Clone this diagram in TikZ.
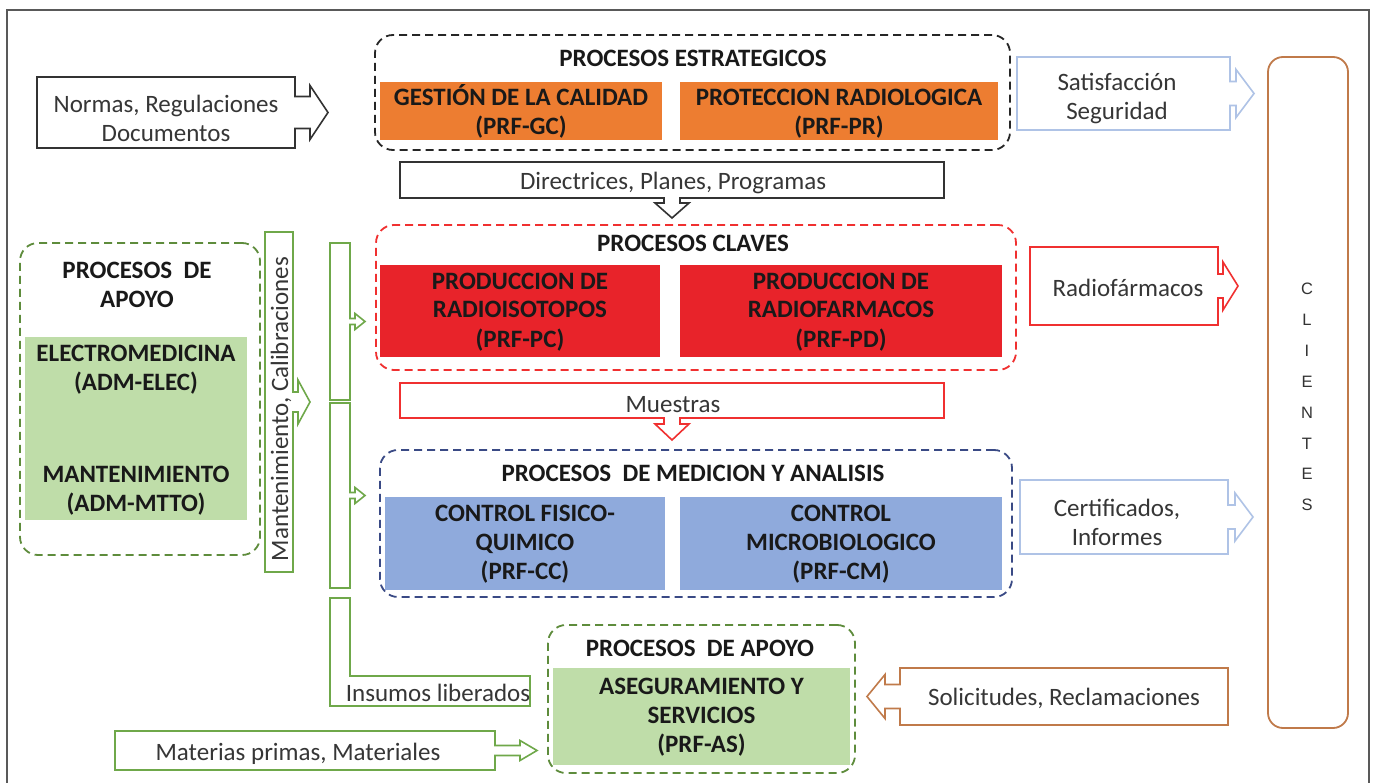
\documentclass[tikz,border=0pt]{standalone}
\usepackage{fontspec}
\setmainfont{Carlito}
\newfontfamily\arialf{Liberation Sans}
\usetikzlibrary{calc}
\definecolor{orng}{HTML}{ED7D31}
\definecolor{redf}{HTML}{E8232A}
\definecolor{bluef}{HTML}{8FAADC}
\definecolor{greenf}{HTML}{BFDDA9}
\definecolor{greenl}{HTML}{6FA84A}
\definecolor{greend}{HTML}{5E8C3C}
\definecolor{bluel}{HTML}{AFC3E6}
\definecolor{brownl}{HTML}{C07A4A}
\definecolor{navyd}{HTML}{3A4A85}
\definecolor{txt}{HTML}{363636}
\definecolor{redl}{HTML}{F03030}

% right arrow callout: #1 node, #2 style, #3 shaft half, #4 head half, #5 shaft len, #6 head len
\newcommand\RArr[6]{\draw[#2] (#1.north west) -- (#1.north east) -- ($(#1.east)+(0,-#3)$) -- ($(#1.east)+(#5,-#3)$) -- ($(#1.east)+(#5,-#4)$) -- ($(#1.east)+(#5+#6,0)$) -- ($(#1.east)+(#5,#4)$) -- ($(#1.east)+(#5,#3)$) -- ($(#1.east)+(0,#3)$) -- (#1.south east) -- (#1.south west) -- cycle;}
\newcommand\LArr[6]{\draw[#2] (#1.north east) -- (#1.north west) -- ($(#1.west)+(0,-#3)$) -- ($(#1.west)+(-#5,-#3)$) -- ($(#1.west)+(-#5,-#4)$) -- ($(#1.west)+(-#5-#6,0)$) -- ($(#1.west)+(-#5,#4)$) -- ($(#1.west)+(-#5,#3)$) -- ($(#1.west)+(0,#3)$) -- (#1.south west) -- (#1.south east) -- cycle;}
\newcommand\DArr[6]{\draw[#2] (#1.south west) -- (#1.north west) -- (#1.north east) -- (#1.south east) -- ($(#1.south)+(#3,0)$) -- ($(#1.south)+(#3,#5)$) -- ($(#1.south)+(#4,#5)$) -- ($(#1.south)+(0,#5+#6)$) -- ($(#1.south)+(-#4,#5)$) -- ($(#1.south)+(-#3,#5)$) -- ($(#1.south)+(-#3,0)$) -- cycle;}
\newcommand\st{\rule{0pt}{21pt}}
\newcommand\sd{\rule[-7pt]{0pt}{7pt}}

\begin{document}
\begin{tikzpicture}[x=1pt,y=-1pt,
  font=\fontsize{25}{29}\selectfont,
  bx/.style={inner sep=0pt, outer sep=0pt, align=center, text=txt},
  bbx/.style={inner sep=0pt, outer sep=0pt, align=center, font=\fontsize{25}{29}\selectfont\bfseries, text=black!90},
  grp/.style={rounded corners=18pt, line width=1.8pt, dash pattern=on 8pt off 5pt, inner sep=0pt, outer sep=0pt},
  outl/.style={line width=1.6pt, line join=miter},
  body/.style={inner sep=0pt, outer sep=0pt},
]
\useasboundingbox (0,0) rectangle (1375,783);
\fill[white] (0,0) rectangle (1375,783);
\draw[black!65, line width=1.6pt] (7,10) rectangle (1369,810);

% ---------- strategic ----------
\node[grp, draw=black!85, minimum width=635, minimum height=115] (strat) at (692.5,92.5) {};
\node[bbx] (stratT) at (693,58) {PROCESOS ESTRATEGICOS};
\node[body, fill=orng, minimum width=282, minimum height=58] (gc) at (521,111) {};
\node[body, fill=orng, minimum width=318, minimum height=58] (pr) at (839,111) {};
\node[bbx] (gcT) at (521,113) {\st GESTIÓN DE LA CALIDAD\\(PRF-GC)\sd};
\node[bbx] (prT) at (839,113) {\st PROTECCION RADIOLOGICA\\(PRF-PR)\sd};

% Normas
\node[body, minimum width=258, minimum height=71] (norm) at (166,112.5) {};
\node[bx] (normT) at (166,118) {Normas, Regulaciones\\Documentos};
\RArr{norm}{outl, draw=black!80}{16}{27}{15}{18}

% Satisfaccion
\node[body, minimum width=213, minimum height=73] (sat) at (1123.5,93.5) {};
\node[bx] (satT) at (1117,99) {Satisfacción\\Seguridad};
\RArr{sat}{outl, draw=bluel}{12}{24}{6}{18}

% Directrices
\node[body, minimum width=544, minimum height=36] (dir) at (672,180) {};
\node[bx] (dirT) at (673,183) {Directrices, Planes, Programas};
\DArr{dir}{outl, draw=black!80}{8}{17}{5}{15}

% ---------- claves ----------
\node[grp, draw=redl, minimum width=640, minimum height=145] (clav) at (696,297.5) {};
\node[bbx] (clavT) at (693,243) {PROCESOS CLAVES};
\node[bbx, fill=redf, minimum width=280, minimum height=92] (pc) at (520,311) {\st PRODUCCION DE\\RADIOISOTOPOS\\(PRF-PC)\sd};
\node[bbx, fill=redf, minimum width=322, minimum height=92] (pd) at (841,311) {\st PRODUCCION DE\\RADIOFARMACOS\\(PRF-PD)\sd};

% Radiofarmacos
\node[body, minimum width=188, minimum height=78] (rad) at (1124,286) {};
\node[bx] (radT) at (1128,288) {Radiofármacos};
\RArr{rad}{outl, draw=redl}{12}{24}{5}{15}

% Muestras
\node[body, minimum width=544, minimum height=35] (mue) at (672,400.5) {};
\node[bx] (mueT) at (673,405) {Muestras};
\DArr{mue}{outl, draw=redl}{8}{17}{6}{16}

% ---------- medicion ----------
\node[grp, draw=navyd, minimum width=632, minimum height=147] (med) at (696,523.5) {};
\node[bbx] (medT) at (693,473) {PROCESOS\ \ DE MEDICION Y ANALISIS};
\node[bbx, fill=bluef, minimum width=280, minimum height=93] (cc) at (525,543.5) {\st CONTROL FISICO-\\QUIMICO\\(PRF-CC)\sd};
\node[bbx, fill=bluef, minimum width=322, minimum height=93] (cm) at (841,543.5) {\st CONTROL\\MICROBIOLOGICO\\(PRF-CM)\sd};

% Certificados
\node[body, minimum width=208, minimum height=74] (cert) at (1124,517) {};
\node[bx] (certT) at (1117,522) {Certificados,\\Informes};
\RArr{cert}{outl, draw=bluel}{12}{24}{7}{18}

% ---------- CLIENTES ----------
\node[rounded corners=15pt, draw=brownl, line width=1.8pt, minimum width=80, minimum height=671, inner sep=0pt] (cli) at (1308,392.5) {};
\node[inner sep=0pt, align=center, font=\fontsize{16.5}{30.9}\selectfont\arialf, text=black!80] (cliT) at (1307,397) {C\\L\\I\\E\\N\\T\\E\\S};

% ---------- left apoyo ----------
\node[grp, draw=greend, minimum width=240, minimum height=312] (lap) at (140,399) {};
\node[bbx] (lapT) at (137,285) {PROCESOS\ \ DE\\APOYO};
\node[body, fill=greenf, minimum width=222, minimum height=183] (lgr) at (136,428.5) {};
\node[bbx] (elec) at (136,370) {ELECTROMEDICINA\\(ADM-ELEC)};
\node[bbx] (mtto) at (136,491) {MANTENIMIENTO\\(ADM-MTTO)};

% Mantenimiento arrow
\node[body, minimum width=28, minimum height=340] (mant) at (279,402) {};
\node[bx, rotate=90] (mantT) at (281,409) {Mantenimiento, Calibraciones};
\RArr{mant}{outl, draw=greenl}{10}{22}{5}{12}

% bracket rects
\node[body, minimum width=20, minimum height=157] (br1) at (340,321.5) {};
\node[body, minimum width=20, minimum height=185] (br2) at (340,495.5) {};
\RArr{br1}{outl, draw=greenl}{3}{8}{5}{10}
\RArr{br2}{outl, draw=greenl}{3}{8}{5}{10}

% Insumos L
\coordinate (insA) at (330,598);
\draw[outl, draw=greenl] (insA) -- ++(20,0) -- ++(0,78) -- ++(180,0) -- ++(0,30) -- ++(-200,0) -- cycle;
\node[bx] (ins) at (438,693) {Insumos liberados};

% ---------- bottom apoyo ----------
\node[grp, draw=greend, minimum width=307, minimum height=148] (bap) at (701.5,699) {};
\node[bbx] (bapT) at (700,648) {PROCESOS\ \ DE APOYO};
\node[bbx, fill=greenf, minimum width=297, minimum height=97] (as) at (701.5,716.5) {\st ASEGURAMIENTO Y\\SERVICIOS\\(PRF-AS)\sd};

% Solicitudes
\node[body, minimum width=328, minimum height=57] (sol) at (1064,696.5) {};
\node[bx] (solT) at (1064,698) {Solicitudes, Reclamaciones};
\LArr{sol}{outl, draw=brownl}{12}{22}{15}{18}

% Materias
\node[body, minimum width=380, minimum height=39] (mat) at (305,750.5) {};
\node[bx] (matT) at (298,754) {Materias primas, Materiales};
\RArr{mat}{outl, draw=greenl}{5}{10}{25}{17}

\end{tikzpicture}
\end{document}
